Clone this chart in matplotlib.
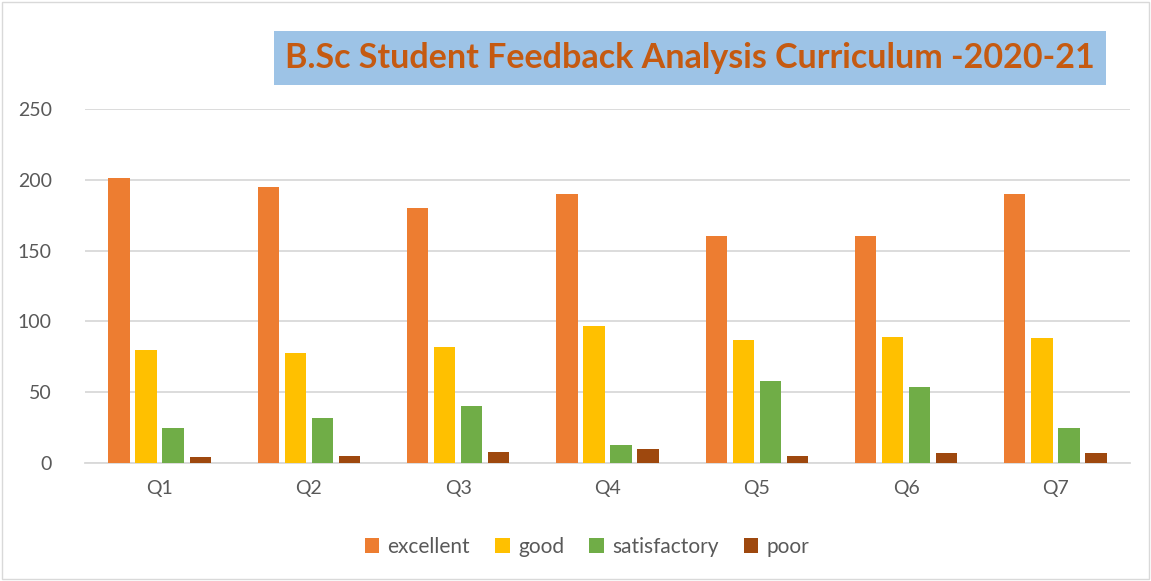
"""
B.Sc student feedback bar chart.
"""
import numpy as np
import matplotlib.pyplot as plt
from matplotlib.patches import Rectangle

questions = ["Q1", "Q2", "Q3", "Q4", "Q5", "Q6", "Q7"]
excellent = [201, 195, 180, 190, 160, 160, 190]
good = [80, 78, 82, 97, 87, 89, 88]
satisfactory = [25, 32, 40, 13, 58, 54, 25]
poor = [4, 5, 8, 10, 5, 7, 7]

series_names = ["excellent", "good", "satisfactory", "poor"]
series_colours = ["#ED7D31", "#FFC000", "#70AD47", "#9E480E"]

plt.rcParams['font.family'] = ['Lato', 'DejaVu Sans']

fig = plt.figure(figsize=(11.51, 5.81), dpi=100)
fig.add_artist(Rectangle((0.002, 0.003), 0.996, 0.994, transform=fig.transFigure,
                         fill=False, edgecolor="#D9D9D9", linewidth=1))
ax = fig.add_axes([85 / 1151, 1 - 463 / 581, 1045 / 1151, 354 / 581])

x = np.arange(len(questions))
bar_w = 0.143
step = 0.181
for i, (name, vals, col) in enumerate(zip(series_names,
        [excellent, good, satisfactory, poor], series_colours)):
    ax.bar(x + (i - 1.5) * step, vals, bar_w, color=col, label=name, zorder=3)

ax.set_xlim(-0.5, len(questions) - 0.5)
ax.set_ylim(0, 250)
ax.set_yticks(range(0, 251, 50))
ax.set_xticks(x)
ax.set_xticklabels(questions)
ax.grid(axis="y", color="#D9D9D9", linewidth=1.3, zorder=0)
for s in ["top", "right", "left"]:
    ax.spines[s].set_visible(False)
ax.spines["bottom"].set_color("#D9D9D9")
ax.spines["bottom"].set_linewidth(1.3)
ax.tick_params(axis="both", length=0, labelsize=14, labelcolor="#595959")
ax.tick_params(axis="x", pad=12)
ax.tick_params(axis="y", pad=24)

fig.text(690 / 1151, 1 - 58 / 581, "B.Sc Student Feedback Analysis Curriculum -2020-21",
         ha="center", va="center", fontsize=24.5, fontweight="bold", color="#C55A11",
         bbox=dict(boxstyle="square,pad=0.32", facecolor="#9DC3E6", edgecolor="none"))

ax.legend(loc="center", bbox_to_anchor=(587 / 1151, 1 - 547 / 581),
          bbox_transform=fig.transFigure, ncol=4, frameon=False, fontsize=15,
          labelcolor="#595959", handlelength=0.7, handleheight=0.7,
          handletextpad=0.4, columnspacing=1.2)

plt.savefig("out.png")
